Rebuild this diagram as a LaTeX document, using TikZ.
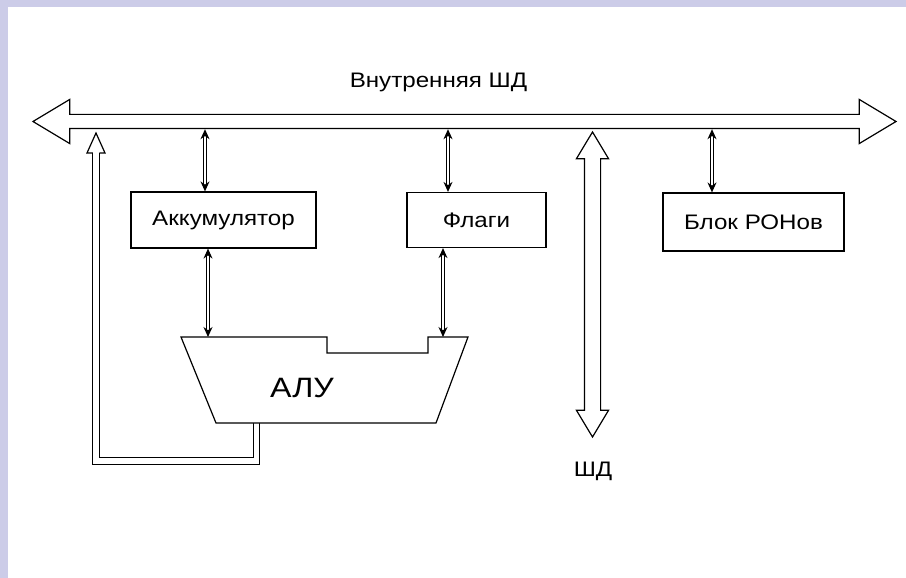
\documentclass[tikz,border=0pt]{standalone}
\usepackage{fontspec}
\setmainfont{Liberation Sans}[FakeStretch=1.15]
\usetikzlibrary{arrows.meta,shapes.arrows}
\definecolor{framelilac}{RGB}{204,204,232}

\begin{document}
\begin{tikzpicture}[x=1pt,y=-1pt,>={Stealth[length=10pt,width=9pt]},node distance=253pt,font=\fontsize{21}{24}\selectfont]

    \useasboundingbox (0,0) rectangle (906,578);
    \fill[framelilac] (0,0) rectangle (906,7);
    \fill[framelilac] (0,0) rectangle (8,578);

    % Define node styles
    \tikzstyle{reg_block} = [draw, line width=1.2pt, inner sep=0pt, text centered]
    \tikzstyle{bus_arrow} = [draw, line width=1.2pt, fill=white, double arrow, inner xsep=0pt]
    \tikzstyle{link_arrow} = [<->, double, double distance=1.4pt, line width=1.1pt]
    \tikzstyle{wide_line} = [double, double distance=5.3pt, line width=1.2pt]

    % Draw nodes
    \node [bus_arrow, inner ysep=6.5pt, minimum height=863pt, double arrow tip angle=62, double arrow head extend=15pt] (bus) at (464.5,121.5) {};
    \node [anchor=base] (bus_label) at (438.5,88) {Внутренняя ШД};

    \node [reg_block, minimum width=185pt, minimum height=56pt] (acc) at (223.5,220) {Аккумулятор};
    \node [reg_block, minimum width=139pt, minimum height=55pt, right of=acc] (flags) {Флаги};
    \node [reg_block, minimum width=181pt, minimum height=58pt, right of=flags, xshift=24pt, yshift=-2pt] (ron) {Блок РОНов};

    \node [bus_arrow, rotate=90, inner ysep=7.5pt, minimum height=305pt, double arrow tip angle=62, double arrow head extend=8pt] (shd) at (592.5,284.5) {};
    \node [anchor=base] (shd_label) at (593,476) {ШД};

    % ALU
    \coordinate (alu_top) at (181,337);
    \coordinate (alu_out) at (256.5,423);
    \coordinate (fb_tip) at (96,133);
    \draw [wide_line] (alu_out) -- (256.5,461) -- (96,461) -- ([yshift=-20pt]fb_tip);
    \draw [line width=1.2pt] ([yshift=-20pt,xshift=-3.25pt]fb_tip) -- ++(-5.75,0) -- (fb_tip) -- ++(9,20) -- ++(-5.75,0);
    \draw [line width=1.2pt, fill=white] (alu_top) -- (327,337) -- (327,353) -- (428,353) -- (428,337) -- (468,337) -- (436,423) -- (216,423) -- cycle;
    \node [font=\fontsize{28}{32}\selectfont] (alu) at (302,388) {АЛУ};

    % Draw arrows
    \draw [link_arrow] ([xshift=-18.5pt]acc.north |- bus.south) -- ([xshift=-18.5pt]acc.north);
    \draw [link_arrow] ([xshift=-28.5pt]flags.north |- bus.south) -- ([xshift=-28.5pt]flags.north);
    \draw [link_arrow] ([xshift=-41.5pt]ron.north |- bus.south) -- ([xshift=-41.5pt]ron.north);

    \draw [link_arrow] ([xshift=-15.5pt]acc.south) -- ([xshift=-15.5pt]acc.south |- alu_top);
    \draw [link_arrow] ([xshift=-33.5pt]flags.south) -- ([xshift=-33.5pt]flags.south |- alu_top);

\end{tikzpicture}
\end{document}
